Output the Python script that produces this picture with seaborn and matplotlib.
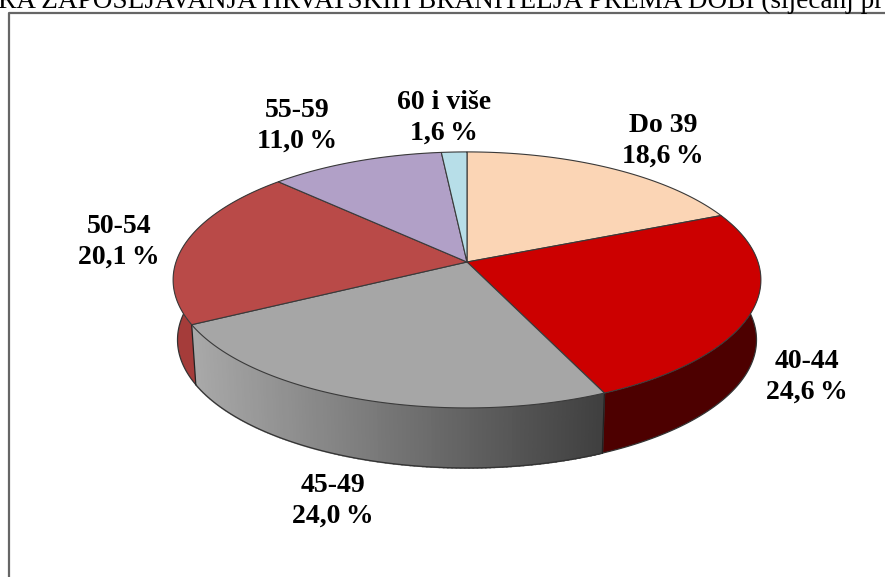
import numpy as np
import matplotlib
matplotlib.use("Agg")
import matplotlib.pyplot as plt
import seaborn as sns

categories = ["Do 39", "40-44", "45-49", "50-54", "55-59", "60 i više"]
values = [18.6, 24.6, 24.0, 20.1, 11.0, 1.6]
top_colors = ["#FBD5B5", "#CC0000", "#A6A6A6", "#B94A48", "#B1A0C7", "#B7DEE8"]
side_colors = ["#FBD5B5", "#4D0000", None, "#A53C3A", "#B1A0C7", "#B7DEE8"]
title = "RA ZAPOŠLJAVANJA HRVATSKIH BRANITELJA PREMA DOBI (siječanj pr"

# where the labels sit, in pixels
label_x = [663, 807, 333, 119, 297, 444]
label_y = [141, 377, 501, 242, 126, 118]

sns.set_theme(style="white")
plt.rcParams["font.family"] = ["Liberation Serif", "DejaVu Serif"]

# pie geometry, tilted disc seen in perspective
cx, cy = 467, 262
rx, ry = 291, 125.5
persp = 0.14
depth = 60
shrink = 0.985


def rim(t):
    w = 1 + persp * np.cos(t)
    return cx + rx * np.sin(t) / w, cy - ry * np.cos(t) / w


def gray_side(x):
    f = np.clip((x - 195) / (600 - 195), 0, 1)
    g = 0.66 - f * (0.66 - 0.25)
    return (g, g, g)


fig = plt.figure(figsize=(8.85, 5.77), dpi=100)
ax = fig.add_axes([0, 0, 1, 1])
ax.set_xlim(0, 885)
ax.set_ylim(577, 0)
ax.axis("off")

# slice limits from the values
edges = np.cumsum([0] + values) / sum(values) * 2 * np.pi

# side wall first
for i in range(len(values)):
    ts = np.linspace(edges[i], edges[i + 1], 120)
    xo, yo = rim(ts)
    xl = cx + (xo - cx) * shrink
    yl = yo + depth
    if side_colors[i]:
        ax.fill(np.r_[xo, xl[::-1]], np.r_[yo, yl[::-1]], facecolor=side_colors[i],
                edgecolor="none", zorder=1)
    else:
        # gradient wall, one strip per rim step
        for j in range(len(ts) - 1):
            ax.fill([xo[j], xo[j + 1], xl[j + 1], xl[j]], [yo[j], yo[j + 1], yl[j + 1], yl[j]],
                    color=gray_side(xo[j]), lw=1.2, zorder=1)
    # dark outline of the wall
    ax.plot(xl, yl, color="#333333", lw=0.9, zorder=2)
    if np.cos(edges[i]) < 0.3:
        ax.plot([xo[0], xl[0]], [yo[0], yl[0]], color="#222222", lw=0.9, zorder=2)

# top of the pie
for i in range(len(values)):
    ts = np.linspace(edges[i], edges[i + 1], 120)
    xo, yo = rim(ts)
    ax.fill(np.r_[cx, xo], np.r_[cy, yo], facecolor=top_colors[i],
            edgecolor="#3A3A3A", lw=0.8, zorder=3)

for i, name in enumerate(categories):
    pct = f"{values[i]:.1f}".replace(".", ",") + "\u2009%"
    ax.text(label_x[i], label_y[i], name + "\n" + pct, ha="center", va="center",
            fontsize=20, fontweight="bold", color="black", linespacing=1.33, zorder=5)

# chart frame and the cut off heading above it
ax.plot([9, 9, 885], [577, 13, 13], color="#666666", lw=1.6, zorder=4)
ax.text(-2, 8, title, ha="left", va="baseline", fontsize=19.6, color="black", zorder=5)

fig.savefig("out.png", dpi=100)
